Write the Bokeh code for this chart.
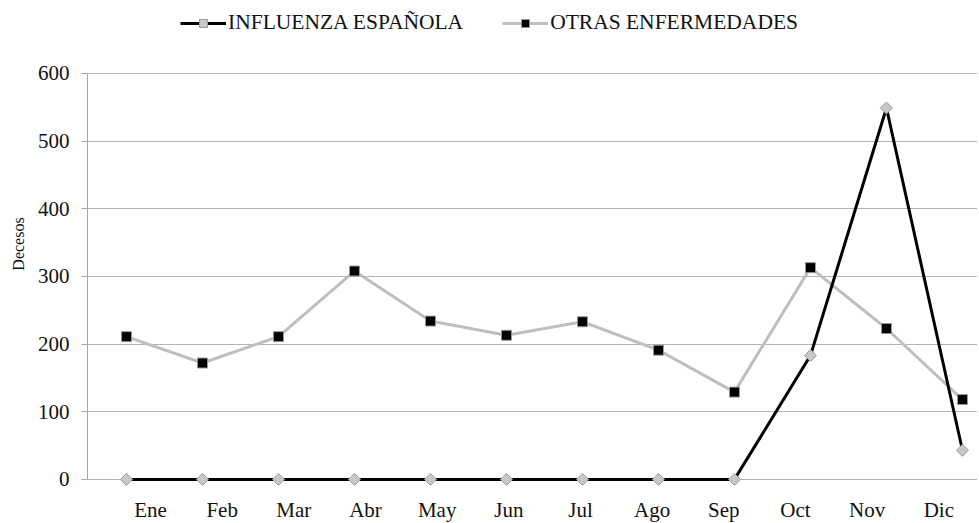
import math
from bokeh.plotting import figure
from bokeh.models import ColumnDataSource, Legend, LegendItem, FixedTicker, Range1d
from bokeh.embed import file_html
from bokeh.resources import INLINE

months = ["Ene", "Feb", "Mar", "Abr", "May", "Jun", "Jul", "Ago", "Sep", "Oct", "Nov", "Dic"]
influenza = [0, 0, 0, 0, 0, 0, 0, 0, 0, 183, 549, 43]
otras = [211, 172, 211, 308, 234, 213, 233, 191, 129, 313, 223, 118]
y_ticks = [0, 100, 200, 300, 400, 500, 600]

xs = list(range(len(months)))
src = ColumnDataSource(dict(x=xs, inf=influenza, otr=otras))

FONT = "Liberation Serif"

p = figure(frame_width=890, frame_height=487, output_backend="svg", toolbar_location=None,
           x_range=Range1d(-0.513, 11.198), y_range=Range1d(-12, 707.9),
           min_border_left=87, min_border_top=0, min_border_bottom=32, min_border_right=0)
p.outline_line_color = None
p.background_fill_color = "white"

# Grid (the zero line doubles as the horizontal axis line)
p.xgrid.grid_line_color = None
p.ygrid.grid_line_color = "#B3B3B3"
p.ygrid.grid_line_width = 1
p.ygrid.ticker = FixedTicker(ticks=y_ticks)

# Y axis
p.yaxis.ticker = FixedTicker(ticks=y_ticks)
p.yaxis.bounds = (0, 600)
p.yaxis.axis_line_color = "#A6A6A6"
p.yaxis.major_tick_line_color = "#A6A6A6"
p.yaxis.major_tick_out = 6
p.yaxis.major_tick_in = 0
p.yaxis.minor_tick_line_color = None
p.yaxis.major_label_text_font = FONT
p.yaxis.major_label_text_font_size = "21px"
p.yaxis.major_label_text_color = "#111111"
p.yaxis.major_label_standoff = 12
p.yaxis.axis_label = "Decesos"
p.yaxis.axis_label_text_font = FONT
p.yaxis.axis_label_text_font_size = "16px"
p.yaxis.axis_label_text_font_style = "normal"
p.yaxis.axis_label_text_color = "#111111"
p.yaxis.axis_label_standoff = 8

# X axis: month labels sit slightly offset from the points, as in the reference
label_pos = [0.316 + 0.943 * i for i in range(len(months))]
p.xaxis.ticker = FixedTicker(ticks=label_pos)
p.xaxis.major_label_overrides = {pos: m for pos, m in zip(label_pos, months)}
p.xaxis.axis_line_color = None
p.xaxis.major_tick_line_color = None
p.xaxis.minor_tick_line_color = None
p.xaxis.major_label_text_font = FONT
p.xaxis.major_label_text_font_size = "21px"
p.xaxis.major_label_text_color = "#111111"
p.xaxis.major_label_standoff = 4

# Series
l_otr = p.line("x", "otr", source=src, line_color="#BFBFBF", line_width=3)
m_otr = p.scatter("x", "otr", source=src, marker="square", size=10,
                  fill_color="black", line_color="#999999", line_width=1)
l_inf = p.line("x", "inf", source=src, line_color="black", line_width=3)
m_inf = p.scatter("x", "inf", source=src, marker="square", size=8.5, angle=math.pi / 4,
                  fill_color="#C8C8C8", line_color="#9A9A9A", line_width=1)

legend = Legend(items=[LegendItem(label="INFLUENZA ESPAÑOLA", renderers=[l_inf, m_inf]),
                       LegendItem(label="OTRAS ENFERMEDADES", renderers=[l_otr, m_otr])],
                location=(93, 452), orientation="horizontal",
                border_line_alpha=0, background_fill_alpha=0,
                padding=0, margin=0, spacing=39, glyph_width=46, glyph_height=20,
                label_standoff=2, label_text_font=FONT, label_text_font_size="21.5px",
                label_text_color="#111111", label_text_baseline="middle")
p.add_layout(legend, "center")

open("out.html", "w").write(file_html(p, INLINE))
